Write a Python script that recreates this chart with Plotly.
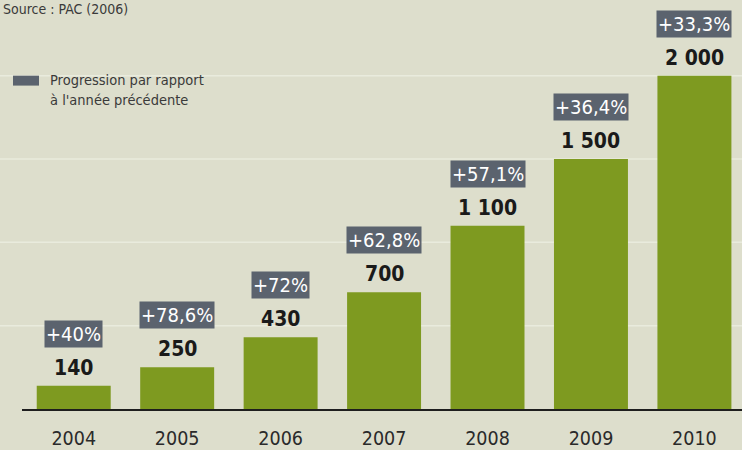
import plotly.graph_objects as go

years = ["2004", "2005", "2006", "2007", "2008", "2009", "2010"]
values = [140, 250, 430, 700, 1100, 1500, 2000]
progress = ["+40%", "+78,6%", "+72%", "+62,8%", "+57,1%", "+36,4%", "+33,3%"]
grid_values = [500, 1000, 1500, 2000]

BG = "#dddecc"
BAR = "#7e9a20"
BOX = "#5b636e"
FONT = "DejaVu Sans Condensed, DejaVu Sans, Roboto, sans-serif"

value_text = [f"{v:,}".replace(",", " ") for v in values]

fig = go.Figure()
fig.add_trace(go.Bar(
    x=years, y=values, marker=dict(color=BAR, line=dict(width=0)),
    width=0.715, hoverinfo="skip", showlegend=False,
))

annotations = []
for i, (v, t, p) in enumerate(zip(values, value_text, progress)):
    annotations.append(dict(
        x=i, y=v, xref="x", yref="y", text="<b>" + t + "</b>", showarrow=False,
        yanchor="bottom", yshift=4,
        font=dict(family=FONT, size=21, color="#1a1a1a"),
    ))
    annotations.append(dict(
        x=i, y=v, xref="x", yref="y", text=p, showarrow=False,
        yanchor="middle", yshift=52, bgcolor=BOX, borderpad=1,
        font=dict(family=FONT, size=20, color="#ffffff"),
    ))

annotations.append(dict(
    x=-0.029, y=1.0, xref="paper", yref="paper", text="Source : PAC (2006)",
    showarrow=False, xanchor="left", yanchor="middle",
    font=dict(family=FONT, size=14, color="#3a3a3a"),
))
annotations.append(dict(
    x=0.0361, y=0.823, xref="paper", yref="paper", text="Progression par rapport",
    showarrow=False, xanchor="left", yanchor="middle",
    font=dict(family=FONT, size=14.5, color="#3a3a3a"),
))
annotations.append(dict(
    x=0.0361, y=0.7736, xref="paper", yref="paper", text="à l'année précédente",
    showarrow=False, xanchor="left", yanchor="middle",
    font=dict(family=FONT, size=14.5, color="#3a3a3a"),
))

shapes = []
for g in grid_values:
    shapes.append(dict(
        type="line", xref="paper", yref="y", x0=-0.04, x1=1.0, y0=g, y1=g,
        line=dict(color="#e9ebdd", width=1.5), layer="below",
    ))
shapes.append(dict(
    type="rect", xref="paper", yref="paper", x0=-0.0125, x1=0.0236,
    y0=0.8085, y1=0.8333, fillcolor=BOX, line=dict(width=0),
))

fig.update_layout(
    width=742, height=450, autosize=False,
    margin=dict(l=22, r=0, t=9, b=39),
    paper_bgcolor=BG, plot_bgcolor=BG,
    xaxis=dict(
        type="category", range=[-0.5, 6.46], showgrid=False,
        showline=True, linecolor="#1e1e1e", linewidth=2,
        ticks="outside", ticklen=11, tickcolor="rgba(0,0,0,0)",
        tickfont=dict(family=FONT, size=19.5, color="#2a2a2a"),
    ),
    yaxis=dict(
        range=[0, 2400], showgrid=False, zeroline=False,
        showticklabels=False, showline=False,
    ),
    annotations=annotations, shapes=shapes,
)

fig.write_html("out.html")
